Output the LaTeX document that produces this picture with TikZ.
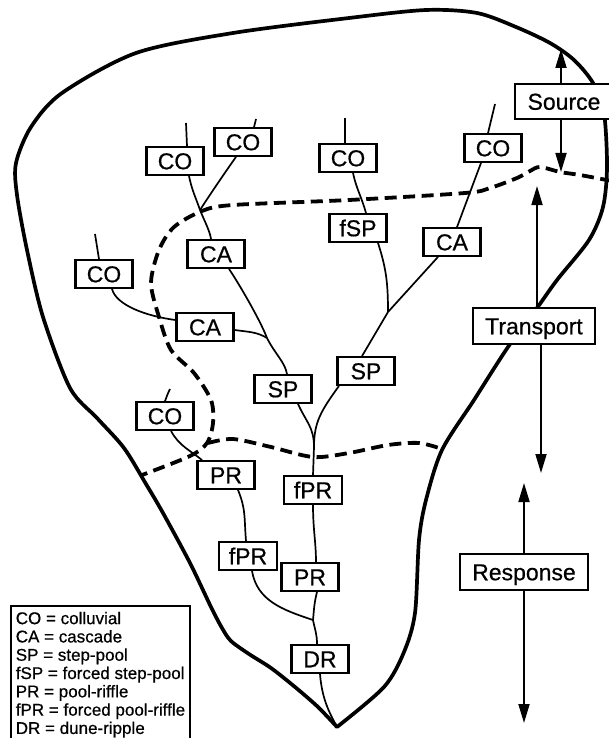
\documentclass[tikz,border=0pt]{standalone}
\usepackage{fontspec}
\setmainfont{Liberation Sans}
\newfontfamily\labelfont{Liberation Sans}[FakeBold=0.6]
\usetikzlibrary{arrows.meta, positioning}
\tikzset{%
	unit/.style={
		draw, fill=white, line width=2.3pt,
		font=\labelfont\fontsize{23}{23}\selectfont,
		text height=16.5pt, text depth=0pt,
		minimum width=57pt,
		inner xsep=10pt, inner ysep=5.5pt
	},
	zone/.style={
		unit, inner xsep=12.5pt, inner ysep=9.5pt
	},
}
\begin{document}
\begin{tikzpicture}[x=1pt, y=-1pt,
	stream/.style={line width=1.7pt},
	basin/.style={line width=3.7pt, line join=round, line cap=round},
	zoneline/.style={line width=3.8pt, dash pattern=on 12pt off 6.5pt},
	arr/.style={line width=1.8pt, -{Triangle[length=19pt, width=11pt]}}
	]
	\useasboundingbox (0,0) rectangle (608,738);

	% catchment outline
	\coordinate (tip) at (337,727);
	\draw[basin] plot[smooth] coordinates {(tip) (318,707) (295,687) (271,668) (249,654) (231,641)
		(222,628) (211,607) (190,563) (163,513) (146,484) (124,448) (97,418) (70,388) (43,317)
		(27,250) (17,195) (16,163) (31,127) (62,93) (136,53) (233,33) (349,18) (426,10) (477,13)
		(516,27) (550,43) (574,60) (593,83) (604,113) (607,167) (603,207) (589,240) (557,280)
		(537,308) (508,347) (474,400) (442,450) (426,500) (419,540) (415,613) (404,652) (384,687) (tip)};

	% zone limits
	\draw[zoneline] plot[smooth] coordinates {(612,181) (580,175) (560,172) (540,167) (530,171)
		(517,178) (490,188) (465,193) (349,200) (233,205) (202,211) (174,227) (159,250) (151,283)
		(159,317) (171,350) (194,373) (211,400) (213,423) (207,443) (190,456) (142,475)};
	\draw[zoneline] plot[smooth] coordinates {(208,443) (233,439) (271,447) (313,457) (349,453)
		(388,445) (419,443) (442,449)};

	% reach types
	\node[unit] (co1) at (175,161) {CO};
	\node[unit] (co2) at (243,142) {CO};
	\node[unit] (co3) at (348,158) {CO};
	\node[unit] (co4) at (493,148) {CO};
	\node[unit] (fsp) at (358,228) {fSP};
	\node[unit] (ca1) at (216,254) {CA};
	\node[unit] (ca3) at (452,242) {CA};
	\node[unit] (co5) at (104,274) {CO};
	\node[unit] (ca2) at (205,327) {CA};
	\node[unit] (sp2) at (366,371) {SP};
	\node[unit] (sp1) at (283,389) {SP};
	\node[unit] (co6) at (165,416) {CO};
	\node[unit] (pr1) at (226,475) {PR};
	\node[unit] (fpr1) at (313,490) {fPR};
	\node[unit] (fpr2) at (248,556) {fPR};
	\node[unit] (pr2) at (310,577) {PR};
	\node[unit] (dr) at (320,659) {DR};

	\node[zone] (src) at (564,101.5) {Source};
	\node[zone] (trn) at (534,326) {Transport};
	\node[zone] (rsp) at (524,572) {Response};

	\node[draw, line width=1.6pt, anchor=north west, align=left, inner xsep=5pt, inner ysep=6pt,
		font=\labelfont\fontsize{17}{18.3}\selectfont] (key) at (10,605)
		{CO = colluvial\\ CA = cascade\\ SP = step-pool\\ fSP = forced step-pool\\
		PR = pool-riffle\\ fPR = forced pool-riffle\\ DR = dune-ripple};

	% channel heads and junctions
	\coordinate (s1) at (186,123);
	\coordinate (s2) at (256,119);
	\coordinate (s3) at (345,118);
	\coordinate (s4) at (495,104);
	\coordinate (s5) at (95,234);
	\coordinate (s6) at (170,389);
	\coordinate (j1) at (200,210);
	\coordinate (j2) at (267,338);
	\coordinate (j3) at (388,312);
	\coordinate (j4) at (314,447);
	\coordinate (j5) at (313,620);

	\draw[stream] (s1) -- ([xshift=12pt]co1.north);
	\draw[stream] ([xshift=14pt]co1.south) .. controls +(3,15) and +(-4,-12) .. (j1);
	\draw[stream] (s2) -- ([xshift=11pt]co2.north);
	\draw[stream] ([xshift=-7pt]co2.south) .. controls +(-12,17) and +(9,-14) .. (j1);
	\draw[stream] (j1) .. controls +(4,10) and +(-1,-8) .. ([xshift=-5pt]ca1.north);
	\draw[stream] ([xshift=13pt]ca1.south) .. controls +(12,18) and +(-6,-16) .. (j2);
	\draw[stream] ([yshift=-3pt]ca2.east) .. controls +(15,2) and +(-10,-6) .. (j2);
	\draw[stream] (j2) .. controls +(8,16) and +(-2,-12) .. ([xshift=4pt]sp1.north);
	\draw[stream] (s5) -- ([xshift=-5pt]co5.north);
	\draw[stream] ([xshift=8pt]co5.south) .. controls +(4,16) and +(-30,-4) .. ([yshift=7pt]ca2.west);
	\draw[stream] (s3) -- ([xshift=-3pt]co3.north);
	\draw[stream] ([xshift=5pt]co3.south) .. controls +(3,15) and +(-4,-15) .. ([xshift=8pt]fsp.north);
	\draw[stream] ([xshift=20pt]fsp.south) .. controls +(8,25) and +(0,-30) .. (j3);
	\draw[stream] (s4) -- ([xshift=-5pt]co4.north);
	\draw[stream] ([xshift=-12pt]co4.south) -- ([xshift=5pt]ca3.north);
	\draw[stream] ([xshift=-14pt]ca3.south) -- (j3);
	\draw[stream] (j3) -- ([xshift=-4pt]sp2.north);
	\draw[stream] ([xshift=-27pt]sp2.south) .. controls +(-18,25) and +(0,-25) .. (j4);
	\draw[stream] ([xshift=15pt]sp1.south) .. controls +(8,18) and +(0,-20) .. (j4);
	\draw[stream] (j4) -- (fpr1.north);
	\draw[stream] (fpr1.south) .. controls +(0,25) and +(0,-20) .. ([xshift=6pt]pr2.north);
	\draw[stream] (s6) .. controls +(-3,6) and +(2,-5) .. (co6.north);
	\draw[stream] ([xshift=6pt]co6.south) .. controls +(8,15) and +(-12,-10) .. ([xshift=-24pt]pr1.north);
	\draw[stream] ([xshift=12pt]pr1.south) .. controls +(8,20) and +(-2,-25) .. ([xshift=-2pt]fpr2.north);
	\draw[stream] ([xshift=4pt]fpr2.south) .. controls +(5,30) and +(-30,-10) .. (j5);
	\draw[stream] ([xshift=7pt]pr2.south) .. controls +(-3,12) and +(1,-10) .. (j5);
	\draw[stream] (j5) .. controls +(2,10) and +(0,-10) .. ([xshift=-3pt]dr.north);
	\draw[stream] (dr.south) .. controls +(2,25) and +(-8,-15) .. (tip);

	% zone arrows
	\coordinate (srcup) at (561,49);
	\coordinate (srcdn) at (561,172);
	\coordinate (trnup) at (537,186);
	\coordinate (trndn) at (541,473);
	\coordinate (rspup) at (524,483);
	\coordinate (rspdn) at (524,723);
	\draw[arr] (src.north -| srcup) -- (srcup);
	\draw[arr] (src.south -| srcdn) -- (srcdn);
	\draw[arr] (trn.north -| trnup) -- (trnup);
	\draw[arr] (trn.south -| trndn) -- (trndn);
	\draw[arr] (rsp.north -| rspup) -- (rspup);
	\draw[arr] (rsp.south -| rspdn) -- (rspdn);
\end{tikzpicture}
\end{document}
